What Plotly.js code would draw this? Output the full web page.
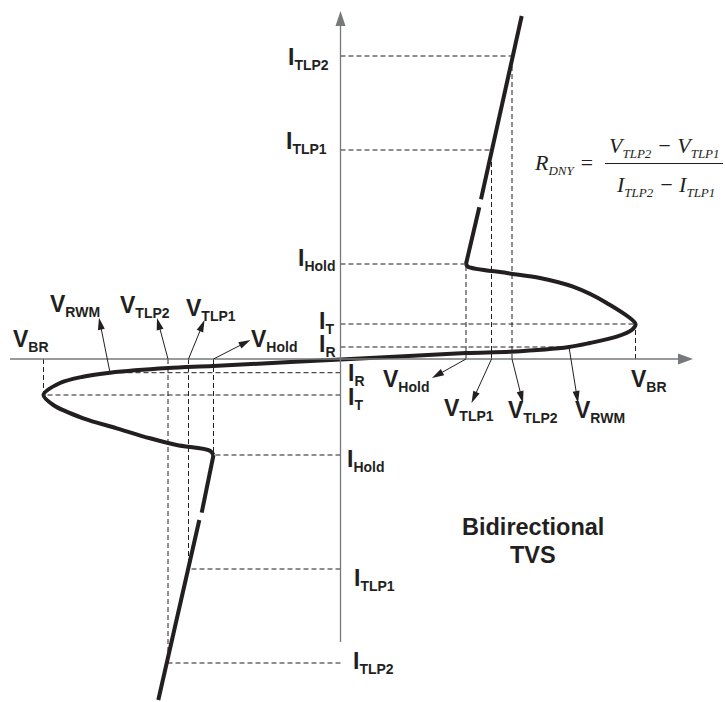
<!DOCTYPE html>
<html><head><meta charset="utf-8">
<script src="https://cdn.plot.ly/plotly-3.0.1.min.js"></script>
<style>html,body{margin:0;padding:0;background:#fff}</style>
</head><body>
<div id="chart" style="width:725px;height:702px"></div>
<script>
// ---- Data (arbitrary units; origin at the crossing of the V and I axes) ----
// Positive (first-quadrant) characteristic levels
const posVoltNames = ['V_Hold', 'V_TLP1', 'V_TLP2', 'V_RWM', 'V_BR'];
const posVoltage   = [12.55, 15.1, 17.15, 22.85, 29.5];
const posCurrNames = ['I_R', 'I_T', 'I_Hold', 'I_TLP1', 'I_TLP2'];
const posCurrent   = [1.2, 3.5, 9.5, 20.9, 30.3];
// Negative (third-quadrant) characteristic levels
const negVoltage   = [-12.7, -15.2, -17.25, -23.05, -29.7];
const negCurrent   = [-1.37, -3.6, -9.6, -21.0, -30.4];

// S-shaped breakdown / snapback curve (from negative hold corner to positive hold corner)
const curveV = [-12.7, -13.05, -16.38, -19.05, -22.38, -25.72, -28.72, -29.7, -28.05, -25.75, -23.05, -17.25, -12.75, 0, 12.55, 17.05, 22.85, 24.95, 27.62, 29.12, 29.5, 26.62, 23.25, 19.95, 16.62, 12.75, 12.55];
const curveI = [-9.6, -9.17, -8.6, -7.93, -6.93, -5.93, -4.6, -3.6, -2.4, -1.77, -1.37, -0.9, -0.7, -0.05, 0.6, 0.73, 1.2, 1.6, 2.23, 2.9, 3.5, 5.6, 7.23, 8.1, 8.6, 9.23, 9.5];

// High-current (TLP) branches, with a break
const upperBranchV = [12.55, 13.88, null, 14.05, 18.12];
const upperBranchI = [9.5, 15.17, null, 15.97, 34.3];
const lowerBranchV = [-12.7, -13.88, null, -14.12, -18.22];
const lowerBranchI = [-9.6, -15.37, null, -16.1, -34.1];

// Axis extents
const vAxisExtent = [-33.05, 35.25];
const iAxisExtent = [-28.3, 34.8];

// ---- Helpers ----
const INK = '#231f20';
const AXIS = '#77787b';
const PX = 10;             // pixels per unit
const X0 = 340.5, Y0 = 359; // pixel position of origin
const px2v = p => (p - X0) / PX;
const px2i = p => (Y0 - p) / PX;

const [vHold, vTlp1, vTlp2, vRwm, vBr] = posVoltage;
const [iR, iT, iHold, iTlp1, iTlp2] = posCurrent;
const [nvHold, nvTlp1, nvTlp2, nvRwm, nvBr] = negVoltage;
const [niR, niT, niHold, niTlp1, niTlp2] = negCurrent;

// dashed guide segments
const dashV = [], dashI = [];
function seg(v1, i1, v2, i2) { dashV.push(v1, v2, null); dashI.push(i1, i2, null); }
// positive side
seg(0, iTlp2, vTlp2, iTlp2);
seg(0, iTlp1, vTlp1, iTlp1);
seg(0, iHold, vHold, iHold);
seg(0, iT, vBr, iT);
seg(0, iR, vRwm, iR);
seg(vHold, 0, vHold, iHold);
seg(vTlp1, 0, vTlp1, iTlp1);
seg(vTlp2, 0, vTlp2, iTlp2);
seg(vBr, 0, vBr, iT);
// negative side
seg(0, niTlp2, nvTlp2, niTlp2);
seg(0, niTlp1, nvTlp1, niTlp1);
seg(0, niHold, nvHold, niHold);
seg(0, niT, nvBr, niT);
seg(0, niR, nvRwm, niR);
seg(nvHold, 0, nvHold, niHold);
seg(nvTlp1, 0, nvTlp1, niTlp1);
seg(nvTlp2, 0, nvTlp2, niTlp2);
seg(nvBr, 0, nvBr, niT);

const traces = [
  { x: dashV, y: dashI, mode: 'lines', line: { color: INK, width: 1, dash: '5px,3px' }, hoverinfo: 'skip', connectgaps: false },
  { x: curveV, y: curveI, mode: 'lines', line: { color: INK, width: 4, shape: 'spline', smoothing: 0.9 }, hoverinfo: 'skip' },
  { x: upperBranchV, y: upperBranchI, mode: 'lines', line: { color: INK, width: 4 }, hoverinfo: 'skip', connectgaps: false },
  { x: lowerBranchV, y: lowerBranchI, mode: 'lines', line: { color: INK, width: 4 }, hoverinfo: 'skip', connectgaps: false }
];

// arrows as shapes (units: data, 1 unit = 10 px in both directions)
const shapes = [];
function arrow(tx, ty, hx, hy, L, W, color, lw) {
  const dx = hx - tx, dy = hy - ty, len = Math.hypot(dx, dy);
  const ux = dx / len, uy = dy / len;
  const bx = hx - L * ux, by = hy - L * uy;
  const qx = -uy * W / 2, qy = ux * W / 2;
  shapes.push({ type: 'line', xref: 'x', yref: 'y', x0: tx, y0: ty, x1: bx + 0.2 * ux, y1: by + 0.2 * uy, line: { color: color, width: lw } });
  shapes.push({ type: 'path', xref: 'x', yref: 'y',
    path: `M${hx},${hy} L${bx + qx},${by + qy} L${bx - qx},${by - qy} Z`,
    fillcolor: color, line: { width: 0 } });
}
// axes
arrow(0, iAxisExtent[0], 0, iAxisExtent[1], 1.5, 1.0, AXIS, 1.3);
arrow(vAxisExtent[0], 0, vAxisExtent[1], 0, 1.5, 1.1, AXIS, 1.3);
// pointer arrows (tail at the level on the axis, head near its label; head offsets in px)
function pointer(tv, ti, dxp, dyp) { arrow(tv, ti, tv + dxp / PX, ti - dyp / PX, 1.2, 0.7, INK, 1); }
pointer(nvRwm, niR, -11, -55);
pointer(nvTlp2, 0, -11, -41);
pointer(nvTlp1, 0, 16, -39);
pointer(nvHold, 0, 37, -19);
pointer(vHold, 0, -34, 19);
pointer(vTlp1, 0, -20, 44);
pointer(vTlp2, 0, 11, 44);
pointer(vRwm, iR, 9, 56);

// fraction bar of the formula
shapes.push({ type: 'line', xref: 'x', yref: 'y', x0: px2v(605), x1: px2v(723), y0: px2i(163.5), y1: px2i(163.5), line: { color: INK, width: 1.2 } });

// ---- Labels ----
const SANS = 'Liberation Sans, Arial, sans-serif';
const SERIF = 'Liberation Serif, Times New Roman, serif';
function sub(main, s, size) { return `${main}<sub><span style="font-size:${size}px">${s}</span></sub>`; }
const annotations = [];
function label(html, pxLeft, pxBase, anchor) {
  annotations.push({ xref: 'x', yref: 'y', x: px2v(pxLeft), y: px2i(pxBase - 6.6), xanchor: anchor || 'left', yanchor: 'middle',
    showarrow: false, text: html, borderpad: 0,
    font: { family: SANS, size: 23, color: INK, weight: 'bold' } });
}
const S = 14;
// current labels, positive side
label(sub('I', 'TLP2', S), 287, 65);
label(sub('I', 'TLP1', S), 285, 149);
label(sub('I', 'Hold', S), 297, 266);
label(sub('I', 'T', S), 318, 329);
label(sub('I', 'R', S), 318, 352);
// current labels, negative side
label(sub('I', 'R', S), 347, 381);
label(sub('I', 'T', S), 347, 405);
label(sub('I', 'Hold', S), 346, 467);
label(sub('I', 'TLP1', S), 353, 586);
label(sub('I', 'TLP2', S), 352, 669);
// voltage labels, negative side
label(sub('V', 'BR', S), 12, 347);
label(sub('V', 'RWM', S), 49, 312);
label(sub('V', 'TLP2', S), 119, 313);
label(sub('V', 'TLP1', S), 185, 316);
label(sub('V', 'Hold', S), 250, 347);
// voltage labels, positive side
label(sub('V', 'Hold', S), 382, 387);
label(sub('V', 'TLP1', S), 443, 416);
label(sub('V', 'TLP2', S), 507, 418);
label(sub('V', 'RWM', S), 574, 418);
label(sub('V', 'BR', S), 630, 387);

// title block
const TF = 23.5;
annotations.push({ xref: 'x', yref: 'y', x: px2v(532.5), y: px2i(535 - 8.1), xanchor: 'center', yanchor: 'middle', showarrow: false, borderpad: 0,
  text: 'Bidirectional', font: { family: SANS, size: TF, color: INK, weight: 'bold' } });
annotations.push({ xref: 'x', yref: 'y', x: px2v(532.5), y: px2i(563 - 8.1), xanchor: 'center', yanchor: 'middle', showarrow: false, borderpad: 0,
  text: 'TVS', font: { family: SANS, size: TF, color: INK, weight: 'bold' } });

// formula
const F = 22, FS = 13;
function fsub(main, s) { return `${main}<sub><span style="font-size:${FS}px">${s}</span></sub>`; }
annotations.push({ xref: 'x', yref: 'y', x: px2v(533), y: px2i(170 - 6.0), xanchor: 'left', yanchor: 'middle', showarrow: false, borderpad: 0,
  text: fsub('R', 'DNY') + ' =', font: { family: SERIF, size: F, color: INK, style: 'italic' } });
annotations.push({ xref: 'x', yref: 'y', x: px2v(664), y: px2i(153 - 6.0), xanchor: 'center', yanchor: 'middle', showarrow: false, borderpad: 0,
  text: fsub('V', 'TLP2') + ' − ' + fsub('V', 'TLP1'), font: { family: SERIF, size: F, color: INK, style: 'italic' } });
annotations.push({ xref: 'x', yref: 'y', x: px2v(665), y: px2i(192 - 6.0), xanchor: 'center', yanchor: 'middle', showarrow: false, borderpad: 0,
  text: fsub('I', 'TLP2') + ' − ' + fsub('I', 'TLP1'), font: { family: SERIF, size: F, color: INK, style: 'italic' } });

const layout = {
  width: 725, height: 702,
  margin: { l: 0, r: 0, t: 0, b: 0 },
  paper_bgcolor: '#ffffff', plot_bgcolor: '#ffffff',
  showlegend: false,
  xaxis: { range: [px2v(0), px2v(725)], visible: false, fixedrange: true },
  yaxis: { range: [px2i(702), px2i(0)], visible: false, fixedrange: true },
  shapes: shapes,
  annotations: annotations
};

Plotly.newPlot('chart', traces, layout, { displayModeBar: false, staticPlot: true });
</script>
</body></html>
